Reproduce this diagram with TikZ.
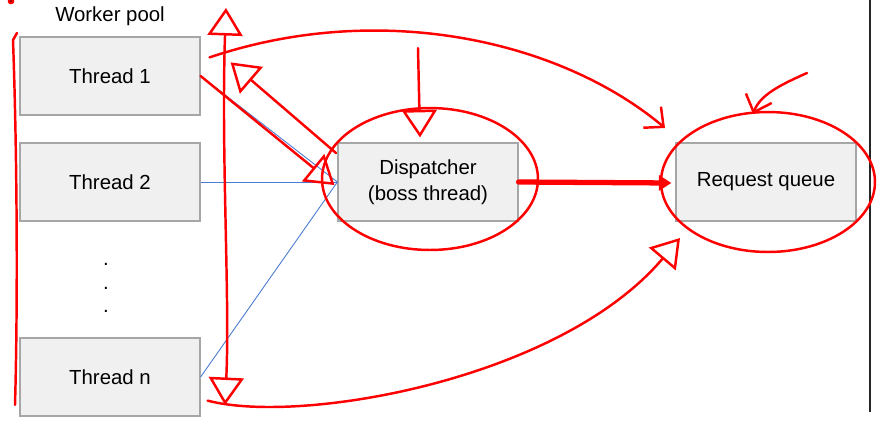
\documentclass[tikz,border=0pt]{standalone}
\usepackage{fontspec}
\setmainfont{Liberation Sans}
\usetikzlibrary{arrows.meta}
\definecolor{boxfill}{HTML}{F0F0F0}
\definecolor{boxline}{HTML}{A6A6A6}
\definecolor{wire}{HTML}{4A7BD0}
\definecolor{pen}{HTML}{FF0000}

\begin{document}
\begin{tikzpicture}[x=0.02cm, y=-0.02cm, font=\fontsize{11.6}{14.5}\selectfont,
		box/.style={draw=boxline, fill=boxfill, line width=0.7pt, minimum width=3.6cm, minimum height=1.56cm, align=center, inner sep=0pt},
		wire/.style={draw=wire, line width=0.5pt},
		pen/.style={draw=pen, line width=1.4pt, line cap=round, line join=round},
		tri/.tip={Triangle[open, length=0.55cm, width=0.7cm]},
		barb/.tip={Straight Barb[length=0.3cm, width=0.55cm]}]
		\useasboundingbox (0,0) rectangle (896,443);
		% boxes
		\node[box] (t1) at (110,76) {Thread 1};
		\node[box] (t2) at (110,182) {Thread 2};
		\node[box] (tn) at (110,377) {Thread n};
		\node[box] (disp) at (428,182) {Dispatcher\\(boss thread)};
		\node[box] (queue) at (766,182) {Request queue};
		\node (pool) at (110,16) {Worker pool};
		\foreach \y in {264,288,311}
			\node[inner sep=0pt] (dot\y) at (106,\y) {.};
		\draw[black!85, line width=0.6pt] (870,0) -- (870,412);
		% wires to the dispatcher
		\draw[wire] (t1.east) -- (disp.west);
		\draw[wire] (t2.east) -- (disp.west);
		\draw[wire] (tn.east) -- (disp.west);
		% red annotations
		\coordinate (back) at (336,153);
		\coordinate (arcin) at ([shift={(9,21)}]t1.north east);
		\coordinate (qtop) at (665,128);
		\coordinate (qbot) at (680,238);
		\coordinate (nout) at ([shift={(7,-16)}]tn.south east);
		\coordinate (down) at (418,48);
		\coordinate (nudge) at (807,73);
		\draw[pen] (17,33) -- (13,40) .. controls (17,150) and (18,300) .. (15,405);
		\fill[pen] (11,1) circle (1.2pt);
		\draw[pen, tri-tri] (226,8) .. controls (221,150) and (230,300) .. (225,405);
		\draw[pen, -tri] (back) -- ([shift={(30,26)}]t1.north east);
		\draw[pen, -tri] (t1.east) -- ([shift={(-3,3)}]disp.west);
		\draw[pen, -tri] (down) -- ([shift={(-8,-5)}]disp.north);
		\draw[pen] (430,179) ellipse [x radius=2.16cm, y radius=1.42cm];
		\draw[pen, line width=3pt, -{Triangle[length=0.25cm, width=0.3cm]}] (disp.east) -- ([shift={(-4,1)}]queue.west);
		\draw[pen] (768,182) ellipse [x radius=2.14cm, y radius=1.4cm];
		\draw[pen, -barb] (arcin) .. controls (380,0) and (560,40) .. (qtop);
		\draw[pen, -barb] (nudge) .. controls (780,85) and (760,95) .. (753,114);
		\draw[pen, -tri] (nout) .. controls (300,425) and (560,380) .. (qbot);
	\end{tikzpicture}
\end{document}
